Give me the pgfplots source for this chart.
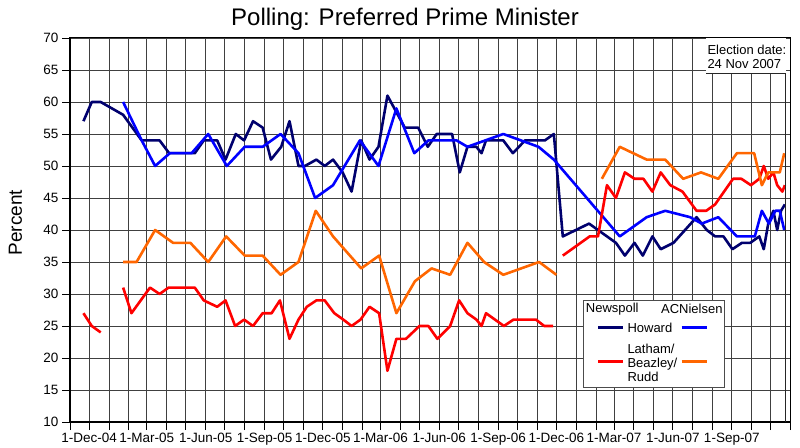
\documentclass[border=0pt]{standalone}
\usepackage{fontspec}
\setmainfont{Liberation Sans}
\usepackage{pgfplots}
\pgfplotsset{compat=1.18}
\definecolor{navyc}{RGB}{0,0,110}
\definecolor{bluec}{RGB}{0,0,255}
\definecolor{redc}{RGB}{255,0,0}
\definecolor{orngc}{RGB}{255,102,0}
\newcommand{\fs}[1]{\fontsize{#1bp}{#1bp}\selectfont}
\begin{document}
\begin{tikzpicture}
\path[use as bounding box] (-70bp,-26bp) rectangle (730bp,422bp);
\begin{axis}[
  scale only axis, width=720bp, height=384bp,
  xmin=0, xmax=1125, ymin=10, ymax=70,
  ytick={10,15,...,70},
  xtick={30,120,212,304,395,485,577,669,760,850,942,1034},
  xticklabels={1-Dec-04,1-Mar-05,1-Jun-05,1-Sep-05,1-Dec-05,1-Mar-06,1-Jun-06,1-Sep-06,1-Dec-06,1-Mar-07,1-Jun-07,1-Sep-07},
  minor xtick={0,61,92,151,181,242,273,334,365,426,457,516,546,607,638,699,730,791,822,881,911,972,1003,1064,1095,1125},
  grid=both,
  major grid style={black!75, line width=0.8bp},
  minor grid style={black!75, line width=0.8bp},
  tick style={black, line width=0.8bp},
  major tick length=8bp, minor tick length=8bp,
  tick align=outside,
  xtick pos=lower, ytick pos=left,
  axis line style={black, line width=1bp},
  /pgf/number format/assume math mode=true,
  tick label style={font=\fs{13.5}},
  every axis plot/.append style={line width=2.6bp, line join=round, no markers},
]
% Newspoll Howard
\addplot[navyc] coordinates {
(21,57)(34,60)(48,60)(83,58)(112,54)(140,54)(155,52)(195,52)(209,54)(230,54)(243,51)
(259,55)(272,54)(286,57)(301,56)(314,51)(330,53)(343,57)(357,50)(367,50)(385,51)(398,50)
(411,51)(426,49)(440,46)(455,54)(468,51)(482,53)(496,61)(523,56)(544,56)(559,53)(573,55)
(597,55)(609,49)(621,53)(635,53)(643,52)(650,54)(677,54)(692,52)(711,54)(742,54)(756,55)
(770,39)(811,41)(853,38)(867,36)(882,38)(895,36)(910,39)(923,37)(943,38)(961,40)(979,42)
(995,40)(1008,39)(1021,39)(1035,37)(1050,38)(1063,38)(1077,39)(1084,37)(1091,41)(1099,43)
(1105,40)(1111,43)(1117,44)
};
% ACNielsen Howard
\addplot[bluec] coordinates {
(83,60)(112,54)(133,50)(156,52)(190,52)(216,55)(245,50)(273,53)(301,53)(329,55)(357,52)
(383,45)(411,47)(453,54)(482,50)(510,59)(538,52)(560,54)(604,54)(621,53)(677,55)(732,53)
(756,51)(859,39)(901,42)(930,43)(969,42)(987,41)(1013,42)(1042,39)(1070,39)(1081,43)
(1092,41)(1102,43)(1109,43)(1116,40)
};
% Newspoll Labor
\addplot[redc] coordinates {(21,27)(34,25)(48,24)};
\addplot[redc] coordinates {
(83,31)(96,27)(125,31)(140,30)(154,31)(195,31)(209,29)(230,28)(243,29)(258,25)(272,26)
(286,25)(301,27)(315,27)(328,29)(343,23)(357,26)(370,28)(385,29)(398,29)(413,27)(427,26)
(440,25)(454,26)(468,28)(483,27)(496,18)(510,23)(525,23)(546,25)(560,25)(574,23)(594,25)
(608,29)(621,27)(635,26)(643,25)(650,27)(678,25)(693,26)(728,26)(741,25)(755,25)
};
\addplot[redc] coordinates {
(770,36)(812,39)(825,39)(839,47)(853,45)(867,49)(882,48)(896,48)(910,46)(923,49)(938,47)
(957,46)(979,43)(994,43)(1008,44)(1036,48)(1049,48)(1064,47)(1077,48)(1084,50)(1091,48)
(1099,49)(1105,47)(1113,46)(1117,47)
};
% ACNielsen Labor
\addplot[orngc] coordinates {
(83,35)(104,35)(133,40)(161,38)(188,38)(216,35)(244,39)(273,36)(301,36)(329,33)(357,35)
(384,43)(411,39)(455,34)(483,36)(510,27)(539,32)(565,34)(594,33)(621,38)(647,35)(677,33)
(733,35)(760,33)
};
\addplot[orngc] coordinates {
(831,48)(859,53)(901,51)(930,51)(958,48)(986,49)(1013,48)(1042,52)(1069,52)(1081,47)
(1091,49)(1109,49)(1116,52)
};
\end{axis}
% thicker left and bottom axis lines
\draw[black, line width=1.8bp] (0,0) -- (0,384bp);
\draw[black, line width=1.6bp] (0,0) -- (720bp,0);
% election marker
\fill[white] (636bp,384bp) rectangle (715.5bp,348.7bp);
\draw[black!85, line width=1.4bp] (636bp,348.7bp) -- (715.5bp,348.7bp) -- (715.5bp,0);
\node[anchor=base west, inner sep=0, font=\fs{13}] at (637.3bp,367bp) {Election date:};
\node[anchor=base west, inner sep=0, font=\fs{13}] at (637.3bp,353bp) {24 Nov 2007};
% legend
\draw[black!70, fill=white, line width=0.8bp] (513.3bp,34.7bp) rectangle (654.3bp,121.3bp);
\node[anchor=west, inner sep=0, font=\fs{13}] at (515.7bp,113bp) {Newspoll};
\node[anchor=east, inner sep=0, font=\fs{13}] at (652.7bp,113bp) {ACNielsen};
\draw[navyc, line width=2.6bp] (528.3bp,94.3bp) -- (553.3bp,94.3bp);
\draw[bluec, line width=2.6bp] (611.7bp,94.3bp) -- (636.7bp,94.3bp);
\node[anchor=west, inner sep=0, font=\fs{13}] at (557.3bp,94.3bp) {Howard};
\draw[redc, line width=2.6bp] (528.3bp,60.3bp) -- (553.3bp,60.3bp);
\draw[orngc, line width=2.6bp] (611.7bp,60.3bp) -- (636.7bp,60.3bp);
\node[anchor=west, inner sep=0, align=left, font=\fontsize{13bp}{13.7bp}\selectfont] at (557.3bp,59bp) {Latham/\\Beazley/\\Rudd};
% title and y label
\node[font=\fs{24}] at (335bp,403bp) {Polling: Preferred Prime Minister};
\node[rotate=90, font=\fs{19}] at (-54.5bp,199.5bp) {Percent};
\end{tikzpicture}
\end{document}
